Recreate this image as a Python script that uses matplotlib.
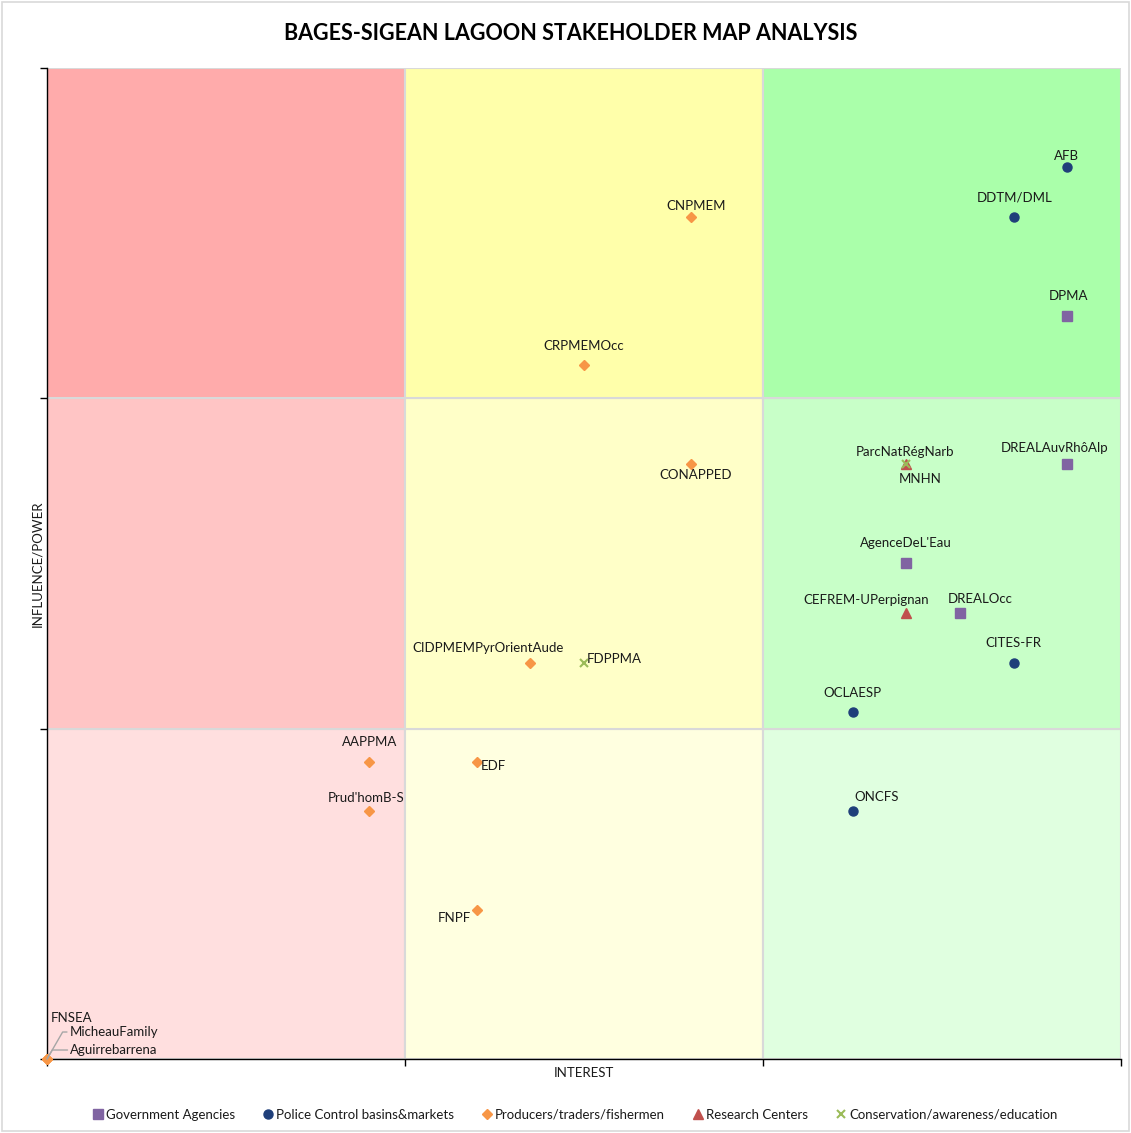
import matplotlib.pyplot as plt
from matplotlib.patches import Rectangle

plt.rcParams['font.family'] = ['Lato', 'DejaVu Sans']

# stakeholder data: name, interest, influence, group
names = ['AFB', 'DDTM/DML', 'DPMA', 'CNPMEM', 'CRPMEMOcc', 'CONAPPED',
         'ParcNatRégNarb', 'MNHN', 'DREALAuvRhôAlp', "AgenceDeL'Eau",
         'CEFREM-UPerpignan', 'DREALOcc', 'CITES-FR', 'OCLAESP',
         'CIDPMEMPyrOrientAude', 'FDPPMA', 'AAPPMA', 'EDF', "Prud'homB-S",
         'ONCFS', 'FNPF', 'FNSEA', 'MicheauFamily', 'Aguirrebarrena']
interest = [19, 18, 19, 12, 10, 12, 16, 16, 19, 16, 16, 17, 18, 15,
            9, 10, 6, 8, 6, 15, 8, 0, 0, 0]
influence = [18, 17, 15, 17, 14, 12, 12, 12, 12, 10, 9, 9, 8, 7,
             8, 8, 6, 6, 5, 5, 3, 0, 0, 0]
group = ['police', 'police', 'gov', 'prod', 'prod', 'prod',
         'cons', 'res', 'gov', 'gov', 'res', 'gov', 'police', 'police',
         'prod', 'cons', 'prod', 'prod', 'prod', 'police', 'prod',
         'prod', 'prod', 'prod']

groups = ['gov', 'police', 'prod', 'res', 'cons']
group_labels = ['Government Agencies', 'Police Control basins&markets',
                'Producers/traders/fishermen', 'Research Centers',
                'Conservation/awareness/education']
styles = {
    'gov': dict(marker='s', color='#8064A2', ms=6.5),
    'police': dict(marker='o', color='#1F3F7A', ms=6.5),
    'prod': dict(marker='D', color='#F79646', ms=5),
    'res': dict(marker='^', color='#C0504D', ms=7),
    'cons': dict(marker='x', color='#9BBB59', ms=6, mew=1.5),
}

# label offsets in pixels (dx, dy) relative to the point
label_offsets = {
    'AFB': (-1, 11), 'DDTM/DML': (1, 19), 'DPMA': (1, 20),
    'CNPMEM': (5, 11), 'CRPMEMOcc': (0, 19), 'CONAPPED': (4, -11),
    'ParcNatRégNarb': (-1, 12), 'MNHN': (14, -15),
    'DREALAuvRhôAlp': (-13, 16), "AgenceDeL'Eau": (0, 20),
    'CEFREM-UPerpignan': (-40, 13), 'DREALOcc': (20, 14),
    'CITES-FR': (0, 20), 'OCLAESP': (0, 19),
    'CIDPMEMPyrOrientAude': (-42, 15), 'FDPPMA': (30, 4),
    'AAPPMA': (0, 20), 'EDF': (17, -4), "Prud'homB-S": (-3, 13),
    'ONCFS': (24, 14), 'FNPF': (-22, -8), 'FNSEA': (25, 41),
    'MicheauFamily': (67, 27), 'Aguirrebarrena': (67, 9),
}
leader_lines = ['MicheauFamily', 'Aguirrebarrena']

zone_colors = [
    ['#FFDFDF', '#FFFFE0', '#E0FFE0'],
    ['#FFC5C5', '#FFFFC8', '#C8FFC8'],
    ['#FFABAB', '#FFFFAA', '#AAFFAA'],
]

fig = plt.figure(figsize=(11.31, 11.33), dpi=100)
fig.patches.append(Rectangle((0.002, 0.002), 0.996, 0.996, transform=fig.transFigure,
                             fill=False, edgecolor='#D9D9D9', lw=1.2))
ax = fig.add_axes([0.0416, 0.0653, 0.9496, 0.8747])

third = 20 / 3
for r in range(3):
    for c in range(3):
        ax.add_patch(Rectangle((c * third, r * third), third, third,
                               facecolor=zone_colors[r][c], edgecolor='#D9D9D9',
                               lw=1.5, zorder=0))

for g in groups:
    xs = [x for x, gg in zip(interest, group) if gg == g]
    ys = [y for y, gg in zip(influence, group) if gg == g]
    ax.plot(xs, ys, linestyle='none', zorder=3, clip_on=False, **styles[g])

for n, x, y in zip(names, interest, influence):
    dx, dy = label_offsets[n]
    arrow = None
    if n in leader_lines:
        arrow = dict(arrowstyle='-', color='#A6A6A6', lw=1,
                     shrinkA=0, shrinkB=0, relpos=(0, 0.5),
                     connectionstyle='angle,angleA=0,angleB=60,rad=0')
    ax.annotate(n, (x, y), xytext=(dx, dy), textcoords='offset pixels',
                ha='center', va='center', fontsize=9.5, color='#1A1A1A',
                zorder=4, arrowprops=arrow)

ax.set_xlim(0, 20)
ax.set_ylim(0, 20)
ax.set_xticks([0, third, 2 * third, 20])
ax.set_yticks([0, third, 2 * third, 20])
ax.set_xticklabels([])
ax.set_yticklabels([])
ax.tick_params(direction='out', length=5, width=1, color='black')
for s in ['top', 'right']:
    ax.spines[s].set_visible(False)
for s in ['left', 'bottom']:
    ax.spines[s].set_color('black')
    ax.spines[s].set_linewidth(1)

ax.set_xlabel('INTEREST', fontsize=9.5, color='#1A1A1A', labelpad=-3)
ax.set_ylabel('INFLUENCE/POWER', fontsize=9.5, color='#1A1A1A', labelpad=-6)
fig.text(0.505, 0.970, 'BAGES-SIGEAN LAGOON STAKEHOLDER MAP ANALYSIS',
         ha='center', va='center', fontsize=15.5, fontweight='bold')

handles = [plt.Line2D([], [], linestyle='none', **styles[g]) for g in groups]
fig.legend(handles, group_labels, loc='center', bbox_to_anchor=(0.508, 0.016),
           ncol=5, frameon=False, fontsize=9.5, handletextpad=0.1,
           columnspacing=2.0, handlelength=1.0, labelcolor='#1A1A1A')

fig.savefig('out.png', dpi=100)
